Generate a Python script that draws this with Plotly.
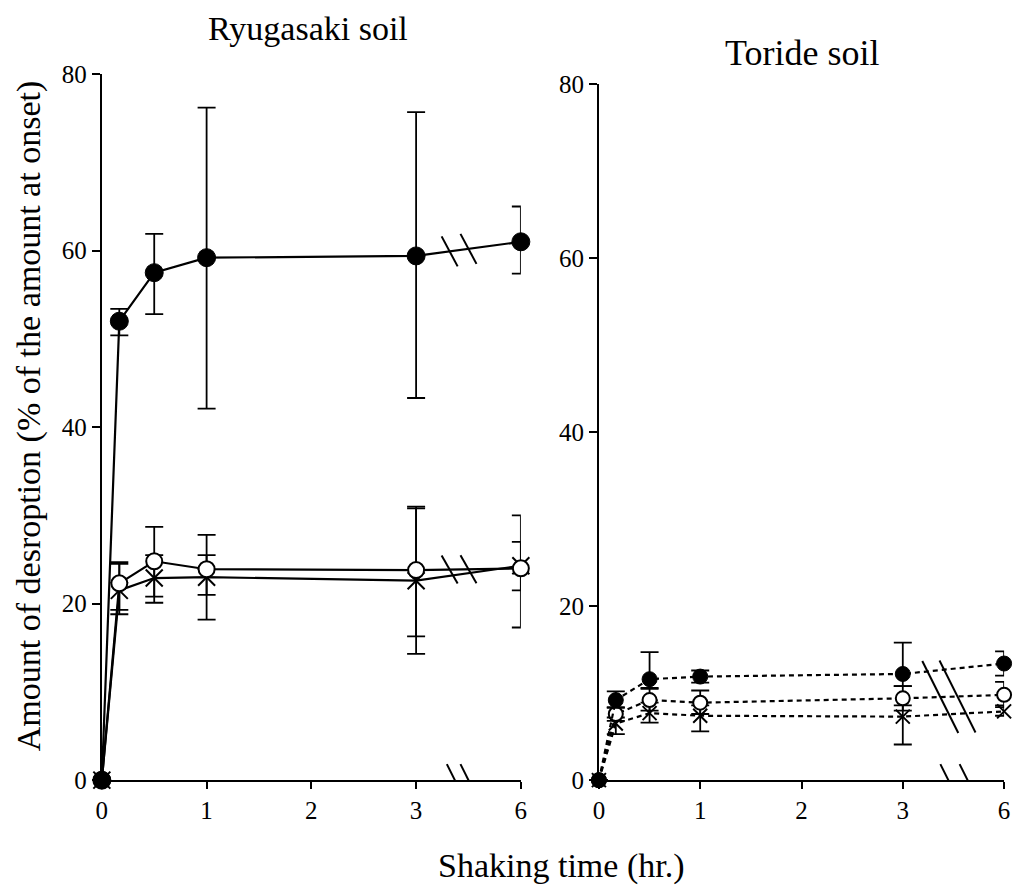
import plotly.graph_objects as go

# Shaking times (hr.) and the axis position each one is drawn at (axis is broken between 3 and 6 hr.)
times = [0, 1 / 6, 0.5, 1, 3, 6]
tick_vals = [0, 1, 2, 3, 4]
tick_text = ["0", "1", "2", "3", "6"]
y_ticks = [0, 20, 40, 60, 80]

# Ryugasaki soil: desorption (% of amount at onset) with upper / lower error extents
ryu_filled = [0, 52.0, 57.5, 59.2, 59.4, 61.0]
ryu_filled_hi = [0, 53.4, 61.9, 76.2, 75.7, 65.0]
ryu_filled_lo = [0, 50.4, 52.8, 42.1, 43.3, 57.4]

ryu_open = [0, 22.3, 24.8, 23.9, 23.8, 24.0]
ryu_open_hi = [0, 24.7, 28.7, 27.8, 31.0, 30.0]
ryu_open_lo = [0, 19.3, 20.8, 21.0, 14.3, 17.3]

ryu_cross = [0, 21.5, 22.9, 23.0, 22.6, 24.3]
ryu_cross_hi = [0, 24.5, 25.5, 25.5, 30.8, 27.0]
ryu_cross_lo = [0, 18.8, 20.1, 18.2, 16.3, 21.5]

# Toride soil
tor_filled = [0, 9.2, 11.6, 11.9, 12.2, 13.4]
tor_filled_hi = [0, 10.2, 14.7, 12.6, 15.8, 14.8]
tor_filled_lo = [0, 8.3, 10.5, 11.2, 10.8, 12.0]

tor_open = [0, 7.6, 9.2, 8.9, 9.4, 9.8]
tor_open_hi = [0, 8.4, 10.6, 10.3, 10.8, 11.3]
tor_open_lo = [0, 6.8, 8.0, 7.6, 8.0, 8.4]

tor_cross = [0, 6.5, 7.7, 7.4, 7.3, 7.9]
tor_cross_hi = [0, 7.2, 8.9, 8.6, 8.6, 8.6]
tor_cross_lo = [0, 5.3, 6.6, 5.6, 4.1, 7.4]


def axis_pos(t):
    return t if t <= 3 else 4


xpos = [axis_pos(t) for t in times]
FONT = "Liberation Serif, Times New Roman, serif"

fig = go.Figure()


def add_series(vals, hi, lo, marker, xa, ya, dash, msize):
    fig.add_trace(go.Scatter(
        x=xpos, y=vals, xaxis=xa, yaxis=ya, mode="lines+markers",
        line=dict(color="black", width=2.2, dash=dash),
        marker=dict(size=msize, **marker),
        error_y=dict(type="data", symmetric=False,
                     array=[h - v for h, v in zip(hi, vals)],
                     arrayminus=[v - l for v, l in zip(vals, lo)],
                     color="black", thickness=1.8, width=9),
        cliponaxis=False, showlegend=False,
    ))


filled = dict(symbol="circle", color="black", line=dict(color="black", width=1))
hollow = dict(symbol="circle", color="white", line=dict(color="black", width=2))
cross = dict(symbol="x-thin", color="black", line=dict(color="black", width=2))

add_series(ryu_cross, ryu_cross_hi, ryu_cross_lo, cross, "x", "y", "solid", 17)
add_series(ryu_open, ryu_open_hi, ryu_open_lo, hollow, "x", "y", "solid", 16)
add_series(ryu_filled, ryu_filled_hi, ryu_filled_lo, filled, "x", "y", "solid", 18)

add_series(tor_cross, tor_cross_hi, tor_cross_lo, cross, "x2", "y2", "5px,4px", 14)
add_series(tor_open, tor_open_hi, tor_open_lo, hollow, "x2", "y2", "5px,4px", 14)
add_series(tor_filled, tor_filled_hi, tor_filled_lo, filled, "x2", "y2", "5px,4px", 15)


def on_segment(vals, xb):
    # height of the 3 hr. -> 6 hr. segment at axis position xb
    return vals[4] + (xb - 3) * (vals[5] - vals[4])


def slash(xref, yref, xb, yb, half_w, half_h):
    fig.add_shape(type="line", xref=xref, yref=yref,
                  xsizemode="pixel", ysizemode="pixel",
                  xanchor=xb, yanchor=yb,
                  x0=-half_w, x1=half_w, y0=half_h, y1=-half_h,
                  line=dict(color="black", width=2))


# break marks on the Ryugasaki lines and axis
for xb in (3.32, 3.50):
    slash("x", "y", xb, on_segment(ryu_filled, xb), 8, 15)
    slash("x", "y", xb, on_segment(ryu_open, xb), 8, 14)
for xb in (3.37, 3.50):
    slash("x", "y", xb, 0, 8, 16)

# break marks on the Toride lines and axis
for xb in (3.37, 3.54):
    slash("x2", "y2", xb, on_segment(tor_open, xb), 18, 36)
for xb in (3.45, 3.64):
    slash("x2", "y2", xb, 0, 8, 16)

W, H = 1017, 896
axis_common = dict(showline=True, linecolor="black", linewidth=2, ticks="outside",
                   tickcolor="black", tickwidth=1.5, showgrid=False, zeroline=False,
                   tickfont=dict(family=FONT, size=25, color="black"))

fig.update_layout(
    width=W, height=H, margin=dict(l=0, r=0, t=0, b=0),
    paper_bgcolor="white", plot_bgcolor="white",
    xaxis=dict(domain=[97 / W, 521 / W], range=[0, 4], tickvals=tick_vals,
               ticktext=tick_text, ticklen=7, anchor="y", **axis_common),
    yaxis=dict(domain=[1 - 791 / H, 1 - 63 / H], range=[0, 80], tickvals=y_ticks,
               ticklen=8, anchor="x", **axis_common),
    xaxis2=dict(domain=[600 / W, 1010 / W], range=[0, 4], tickvals=tick_vals,
                ticktext=tick_text, ticklen=7, anchor="y2", **axis_common),
    yaxis2=dict(domain=[1 - 791 / H, 1 - 73 / H], range=[0, 80], tickvals=y_ticks,
                ticklen=8, anchor="x2", **axis_common),
)

title_font = dict(family=FONT, size=34, color="black")
fig.add_annotation(text="Ryugasaki soil", xref="paper", yref="paper",
                   x=306 / W, y=1 - 16 / H, showarrow=False, font=title_font,
                   xanchor="center", yanchor="middle")
fig.add_annotation(text="Toride soil", xref="paper", yref="paper",
                   x=806 / W, y=1 - 41 / H, showarrow=False,
                   font=dict(family=FONT, size=36, color="black"),
                   xanchor="center", yanchor="middle")
fig.add_annotation(text="Shaking time (hr.)", xref="paper", yref="paper",
                   x=562 / W, y=1 - 879 / H, showarrow=False, font=title_font,
                   xanchor="center", yanchor="middle")
fig.add_annotation(text="Amount of desroption (% of the amount at onset)",
                   xref="paper", yref="paper", x=24 / W, y=1 - 416 / H,
                   showarrow=False, textangle=-90, font=title_font,
                   xanchor="center", yanchor="middle")

fig.write_html("out.html")
